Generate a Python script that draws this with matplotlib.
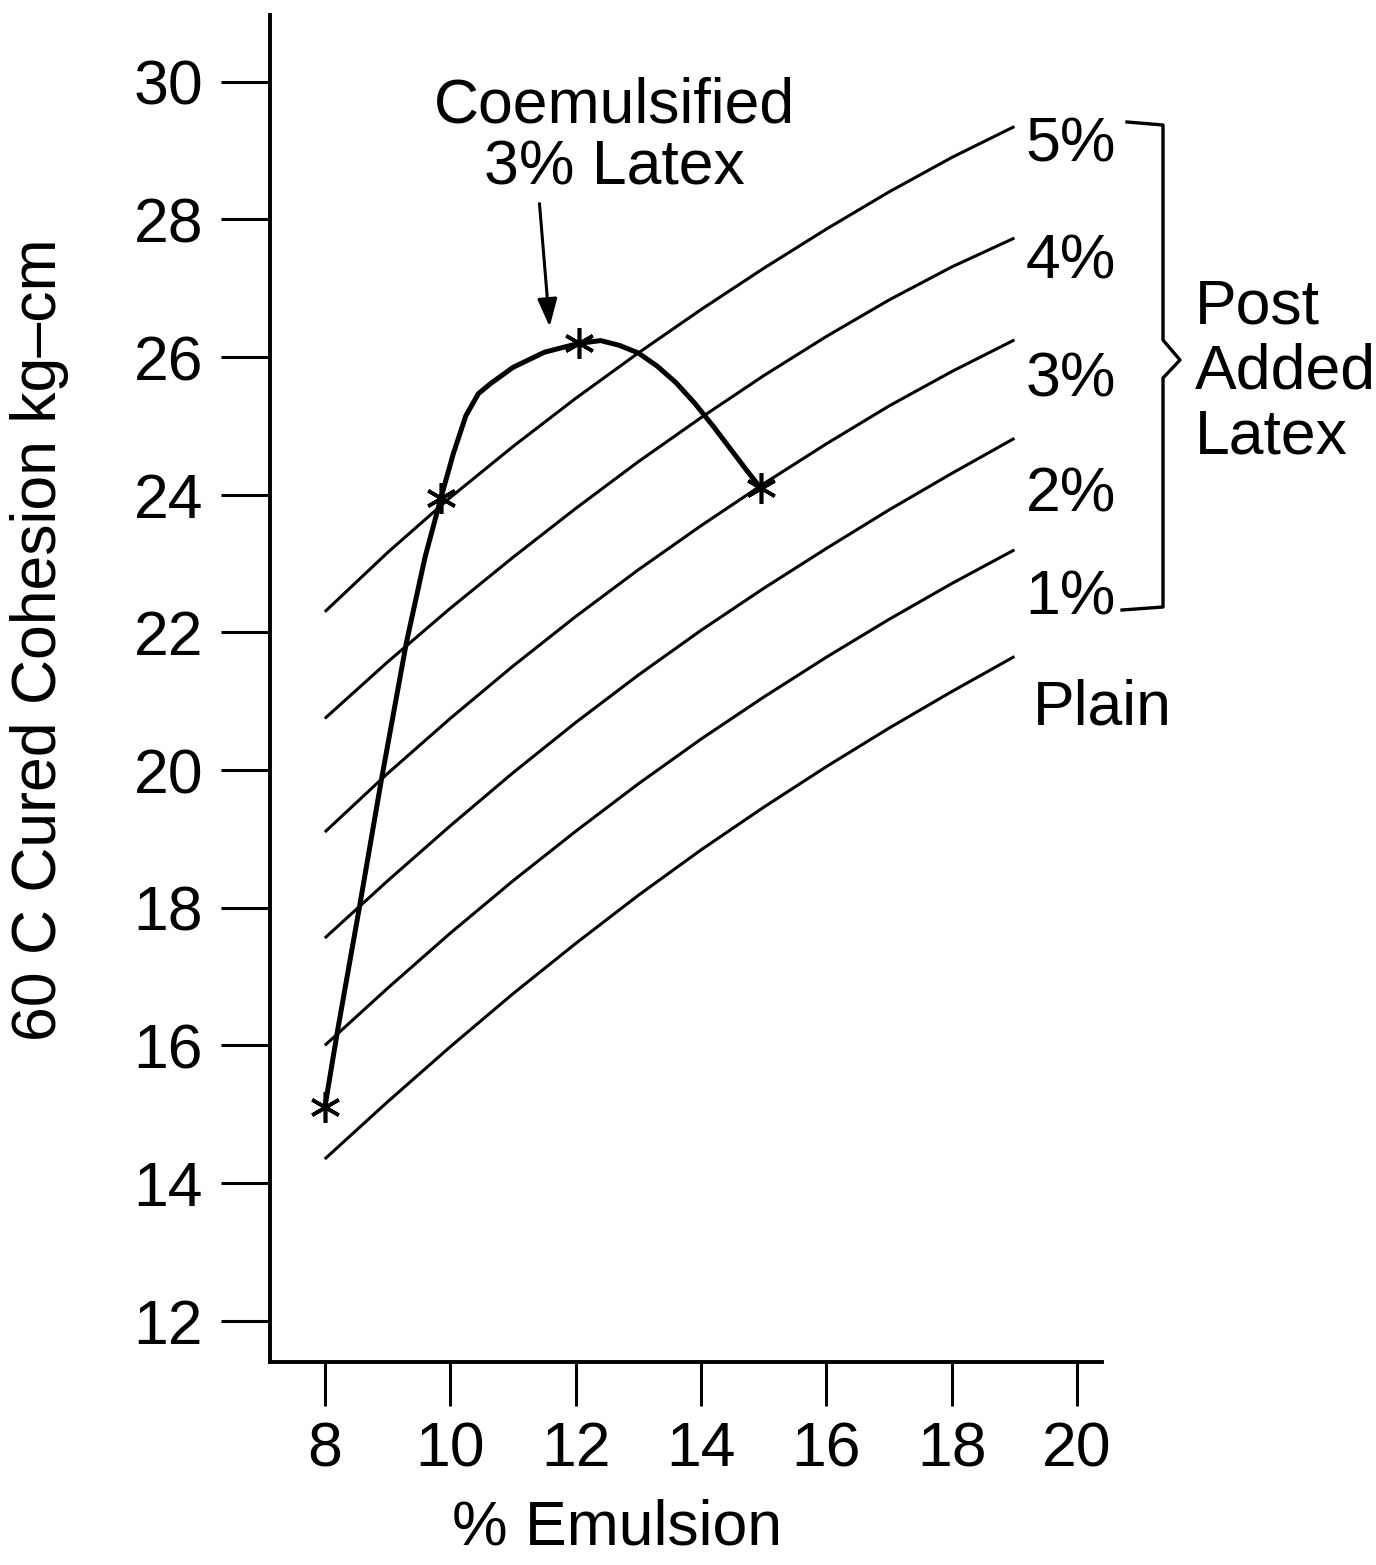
import matplotlib
matplotlib.use("Agg")
import matplotlib.pyplot as plt
from matplotlib.lines import Line2D

plt.rcParams['font.family'] = ['Liberation Sans', 'DejaVu Sans']

# % emulsion grid for the post-added latex curves
emulsion = [8, 9, 10, 11, 12, 13, 14, 15, 16, 17, 18, 19]

# 60 C cured cohesion (kg-cm) for each post-added latex level
plain = [14.35, 15.18, 15.98, 16.75, 17.48, 18.18, 18.84, 19.46, 20.05, 20.61, 21.14, 21.65]
latex_1 = [16.00, 16.83, 17.63, 18.39, 19.11, 19.80, 20.45, 21.06, 21.64, 22.19, 22.71, 23.20]
latex_2 = [17.56, 18.39, 19.19, 19.96, 20.69, 21.38, 22.03, 22.64, 23.22, 23.78, 24.31, 24.82]
latex_3 = [19.10, 19.95, 20.75, 21.51, 22.23, 22.91, 23.55, 24.16, 24.74, 25.29, 25.79, 26.25]
latex_4 = [20.75, 21.57, 22.35, 23.09, 23.80, 24.48, 25.12, 25.73, 26.30, 26.83, 27.31, 27.73]
latex_5 = [22.30, 23.16, 23.96, 24.70, 25.40, 26.06, 26.69, 27.29, 27.86, 28.40, 28.90, 29.35]

curve_labels = ["Plain", "1%", "2%", "3%", "4%", "5%"]

# coemulsified 3% latex curve; stars mark the measured points
coem_x = [8.0, 8.2, 8.55, 8.9, 9.3, 9.6, 9.85, 10.05, 10.25, 10.45, 10.65,
          11.0, 11.5, 12.05, 12.4, 12.7, 13.0, 13.3, 13.6, 13.9, 14.2,
          14.5, 14.75, 14.95]
coem_y = [15.1, 16.2, 18.0, 19.85, 21.85, 23.1, 23.95, 24.6, 25.15, 25.47, 25.62,
          25.85, 26.07, 26.2, 26.24, 26.17, 26.06, 25.87, 25.63, 25.33, 24.99,
          24.63, 24.33, 24.1]
star_idx = [0, 6, 13, 23]

x_ticks = [8, 10, 12, 14, 16, 18, 20]
y_ticks = [12, 14, 16, 18, 20, 22, 24, 26, 28, 30]

FS = 45

fig = plt.figure(figsize=(13.76, 15.65), dpi=100)
ax = fig.add_axes([0.196, 0.1297, 0.605, 0.8607])
ax.set_xlim(7.12, 20.40)
ax.set_ylim(11.40, 30.97)

for s in ["top", "right"]:
    ax.spines[s].set_visible(False)
for s in ["left", "bottom"]:
    ax.spines[s].set_linewidth(2.8)

ax.set_xticks(x_ticks)
ax.set_yticks(y_ticks)
ax.tick_params(axis="x", direction="out", length=32, width=2.2, pad=10, labelsize=FS)
ax.tick_params(axis="y", direction="out", length=35, width=2.2, pad=13, labelsize=FS)

for ys in [plain, latex_1, latex_2, latex_3, latex_4, latex_5]:
    ax.plot(emulsion, ys, color="black", lw=2.2, solid_capstyle="butt",
            solid_joinstyle="round")

ax.plot(coem_x, coem_y, color="black", lw=3.6, solid_joinstyle="round")
ax.plot([coem_x[i] for i in star_idx], [coem_y[i] for i in star_idx],
        linestyle="none", marker=(6, 2, 0), markersize=22,
        markeredgewidth=2.6, color="black")

# curve labels at the right-hand end of each line
label_y = [20.9, 22.5, 24.0, 25.67, 27.38, 29.08]
for txt, ly in zip(curve_labels, label_y):
    lx = 19.29 if txt == "Plain" else 19.18
    ax.text(lx, ly, txt, fontsize=FS, ha="left", va="center")

ax.text(12.62, 29.2, "Coemulsified\n3% Latex", fontsize=FS, ha="center",
        va="center", linespacing=1.08)
ax.annotate("", xy=(11.59, 26.4), xytext=(11.42, 28.27),
            arrowprops=dict(arrowstyle="-|>,head_length=1.7,head_width=0.6",
                            color="black", lw=2.2))

# bracket grouping the post-added latex curves
W, H = 1376.0, 1565.0
bx = [1127, 1163, 1163, 1180, 1163, 1163, 1122]
by = [122, 125, 340, 360, 378, 607, 610]
fig.add_artist(Line2D([x / W for x in bx], [1 - y / H for y in by],
                      transform=fig.transFigure, color="black", lw=2.4))
fig.text(1195 / W, 1 - 372 / H, "Post\nAdded\nLatex", fontsize=FS,
         ha="left", va="center", linespacing=1.12)

fig.text(40 / W, 1 - 640 / H, "60 C Cured Cohesion kg–cm", fontsize=FS,
         rotation=90, ha="center", va="center")
fig.text(617 / W, 1 - 1528 / H, "% Emulsion", fontsize=FS,
         ha="center", va="center")

fig.savefig("out.png", dpi=100, facecolor="white")
